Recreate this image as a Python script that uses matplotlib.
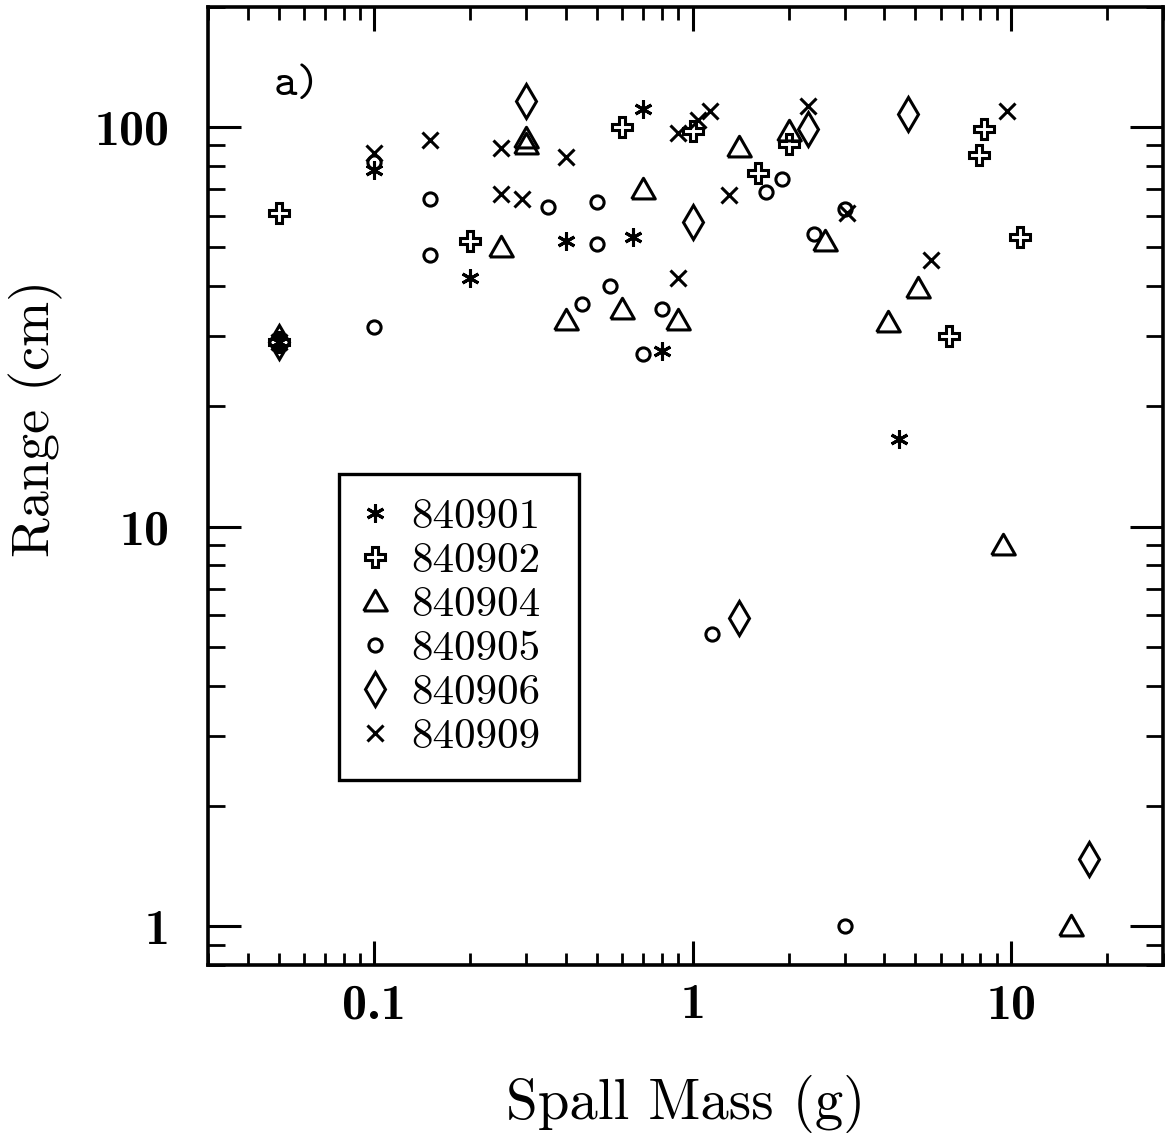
import matplotlib
matplotlib.use("Agg")
import matplotlib.pyplot as plt
from matplotlib.ticker import NullFormatter

# spall mass (g) and range (cm) for each shot
shots = ["840901", "840902", "840904", "840905", "840906", "840909"]

mass_840901 = [0.05, 0.1, 0.2, 0.4, 0.65, 0.7, 0.8, 4.45]
range_840901 = [29, 78, 42, 52, 53, 111, 27.5, 16.6]

mass_840902 = [0.05, 0.05, 0.2, 0.6, 1.0, 1.6, 2.0, 6.4, 7.9, 8.2, 10.7]
range_840902 = [29, 61, 52, 100, 98, 77, 91, 30, 85, 99, 53]

mass_840904 = [0.25, 0.3, 0.3, 0.4, 0.6, 0.7, 0.9, 1.4, 2.0, 2.6, 4.1, 5.1, 9.4, 15.4]
range_840904 = [50, 94, 91, 33, 35, 70, 33, 89, 98, 52, 32.5, 39.6, 9.0, 1.0]

mass_840905 = [0.1, 0.1, 0.15, 0.15, 0.35, 0.45, 0.5, 0.5, 0.55, 0.7, 0.8,
               1.15, 1.7, 1.9, 2.4, 3.0, 3.0]
range_840905 = [82, 31.6, 66, 48, 63, 36, 65, 51, 40, 27, 35,
                5.4, 69, 74, 54, 62.5, 1.0]

mass_840906 = [0.05, 0.3, 1.0, 1.4, 2.3, 4.75, 17.6]
range_840906 = [29, 116, 58, 5.9, 99, 108, 1.47]

mass_840909 = [0.05, 0.1, 0.15, 0.25, 0.25, 0.29, 0.4, 0.9, 0.9, 1.04, 1.13,
               1.3, 2.3, 3.05, 5.6, 9.7]
range_840909 = [29, 86, 93, 88.6, 68, 66, 84, 96.6, 42, 104, 110,
                67.5, 113, 61, 46.4, 110]

xticks = [0.1, 1, 10]
xtick_labels = ["0.1", "1", "10"]
yticks = [1, 10, 100]
ytick_labels = ["1", "10", "100"]

# flattened triangle, closer to the one in the figure
triangle = [(-1, -0.8), (1, -0.8), (0, 0.95), (-1, -0.8)]

styles = {
	"840901": dict(marker=(6, 2, 0), ms=13),
	"840902": dict(marker="P", ms=14),
	"840904": dict(marker=triangle, ms=17),
	"840905": dict(marker="o", ms=9.5),
	"840906": dict(marker="d", ms=17),
	"840909": dict(marker="x", ms=12),
}

data = {
	"840901": (mass_840901, range_840901),
	"840902": (mass_840902, range_840902),
	"840904": (mass_840904, range_840904),
	"840905": (mass_840905, range_840905),
	"840906": (mass_840906, range_840906),
	"840909": (mass_840909, range_840909),
}

fig = plt.figure(figsize=(11.67, 11.39), dpi=100)
ax = fig.add_axes([0.1782, 0.1528, 0.8184, 0.8411])

for shot in shots:
	xs, ys = data[shot]
	st = styles[shot]
	ax.plot(xs, ys, linestyle="none", marker=st["marker"], markersize=st["ms"],
			markerfacecolor="none", markeredgecolor="black", markeredgewidth=2.2,
			label=shot)

ax.set_xscale("log")
ax.set_yscale("log")
ax.set_xlim(0.03, 30)
ax.set_ylim(0.8, 200)

ax.set_xticks(xticks)
ax.set_xticklabels(xtick_labels, fontfamily="cmb10", fontsize=36)
ax.set_yticks(yticks)
ax.set_yticklabels(ytick_labels, fontfamily="cmb10", fontsize=36)
ax.xaxis.set_minor_formatter(NullFormatter())
ax.yaxis.set_minor_formatter(NullFormatter())

ax.tick_params(axis="x", which="major", direction="in", length=17, width=2.2, top=True, pad=13)
ax.tick_params(axis="x", which="minor", direction="in", length=9, width=2.0, top=True)
ax.tick_params(axis="y", which="major", direction="in", length=24, width=2.2, right=True, pad=28)
ax.tick_params(axis="y", which="minor", direction="in", length=12, width=2.0, right=True)
for sp in ax.spines.values():
	sp.set_linewidth(2.6)

ax.set_xlabel("Spall Mass (g)", fontfamily="cmr10", fontsize=41, labelpad=34)
ax.set_ylabel("Range (cm)", fontfamily="cmr10", fontsize=39)
ax.yaxis.set_label_coords(-0.152, 0.57)

ax.text(0.069, 0.917, "a)", transform=ax.transAxes, fontfamily="cmtt10",
		fontsize=32, va="center", ha="left")

leg = ax.legend(loc="upper left", bbox_to_anchor=(0.137, 0.185, 0.252, 0.3275),
				mode="expand", borderaxespad=0,
				prop={"family": "cmr10", "size": 31}, handlelength=0.55,
				handletextpad=0.58, borderpad=0.56, labelspacing=0.135,
				fancybox=False, framealpha=1, edgecolor="black")
leg.get_frame().set_linewidth(2.4)

fig.savefig("out.png", dpi=100)
